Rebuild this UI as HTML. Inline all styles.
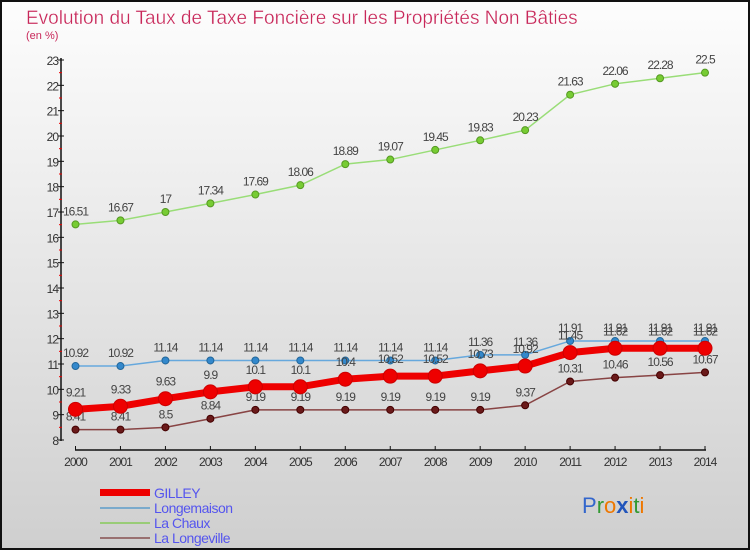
<!DOCTYPE html>
<html><head><meta charset="utf-8"><style>
body{margin:0}
#wrap{width:750px;height:550px;position:relative;box-sizing:border-box;border:2px solid #111;background:linear-gradient(#fdfdfd,#cfcfcf);font-family:"Liberation Sans",sans-serif;overflow:hidden}
</style></head><body>
<div id="wrap">
<svg id="svg" width="746" height="546" viewBox="2 2 746 546" style="position:absolute;left:0;top:0">
<text x="26" y="24" font-size="19" fill="#c8285a" style="font-family:'Liberation Sans',sans-serif" stroke="#fdfdfd" stroke-width="0.3">Evolution du Taux de Taxe Foncière sur les Propriétés Non Bâties</text>
<text x="26" y="39" font-size="11" fill="#c8285a">(en %)</text>
<g id="axes"></g><g id="series"></g>
<g>
<rect x="100" y="489" width="50" height="7" fill="#ee0000"/>
<text x="154" y="498" font-size="14" fill="#5555ee" letter-spacing="-0.5">GILLEY</text>
<rect x="100" y="507" width="50" height="2" fill="#7aaacc"/>
<text x="154" y="513" font-size="14" fill="#5555ee" letter-spacing="-0.5">Longemaison</text>
<rect x="100" y="522" width="50" height="2" fill="#99cc77"/>
<text x="154" y="528" font-size="14" fill="#5555ee" letter-spacing="-0.5">La Chaux</text>
<rect x="100" y="537" width="50" height="2" fill="#997070"/>
<text x="154" y="543" font-size="14" fill="#5555ee" letter-spacing="-0.5">La Longeville</text>
</g>
<g font-size="22" font-family="'Liberation Sans',sans-serif">
<text x="582" y="513"><tspan fill="#3366cc">P</tspan><tspan fill="#339933">r</tspan><tspan fill="#ee7700">o</tspan><tspan fill="#2255bb" font-weight="bold">x</tspan><tspan fill="#ee7700">i</tspan><tspan fill="#339933">t</tspan><tspan fill="#ee7700">i</tspan></text>
</g>
</svg></div>
<script>
const years=[2000,2001,2002,2003,2004,2005,2006,2007,2008,2009,2010,2011,2012,2013,2014];
const gilley=[9.21,9.33,9.63,9.9,10.1,10.1,10.4,10.52,10.52,10.73,10.92,11.45,11.62,11.62,11.62];
const longemaison=[10.92,10.92,11.14,11.14,11.14,11.14,11.14,11.14,11.14,11.36,11.36,11.91,11.91,11.91,11.91];
const laChaux=[16.51,16.67,17,17.34,17.69,18.06,18.89,19.07,19.45,19.83,20.23,21.63,22.06,22.28,22.5];
const laLongeville=[8.41,8.41,8.5,8.84,9.19,9.19,9.19,9.19,9.19,9.19,9.37,10.31,10.46,10.56,10.67];
const yTicks=[8,9,10,11,12,13,14,15,16,17,18,19,20,21,22,23];
const NS='http://www.w3.org/2000/svg';
const xs=i=>75.5+i*(705-75.5)/(years.length-1);
const ys=v=>440-(v-8)*(380/15);
function mk(t,a,p){const e=document.createElementNS(NS,t);for(const k in a)e.setAttribute(k,a[k]);p.appendChild(e);return e;}
const ax=document.getElementById('axes');
const yl=mk('line',{x1:61,y1:58,x2:61,y2:441,stroke:'#111','stroke-width':1.5},ax);


yTicks.forEach(v=>{
 const y=ys(v);
 const t=mk('line',{x1:58,x2:64,y1:y,y2:y,stroke:'#111'},ax);
 
 
 if(v<23){const m=mk('line',{x1:59,x2:62,y1:y-12.67,y2:y-12.67,stroke:'#e00'},ax);
 
 }
 const l=mk('text',{x:58,y:y+5,'font-size':12,fill:'#333','text-anchor':'end','letter-spacing':'-1'},ax);
 
 
 l.textContent=v;
});
const xl=mk('line',{x1:75,y1:450,x2:706,y2:450,stroke:'#111','stroke-width':1.5},ax);


years.forEach((yr,i)=>{
 const x=xs(i);
 const t=mk('line',{x1:x,x2:x,y1:446,y2:450,stroke:'#111'},ax);
 
 
 const l=mk('text',{x:x,y:466,'font-size':12,fill:'#333','text-anchor':'middle','letter-spacing':'-1'},ax);
 
 
 l.textContent=yr;
});
const sg=document.getElementById('series');
function draw(vals,name,col,lw,r,dot,stroke){
 const g=mk('g',{},sg);
 
 
 const p=mk('polyline',{points:vals.map((v,i)=>xs(i)+','+ys(v)).join(' '),fill:'none',stroke:col,'stroke-width':lw},g);
 
 
 vals.forEach((v,i)=>{
  const c=mk('circle',{cx:xs(i),cy:ys(v),r:r,fill:dot,stroke:stroke,'stroke-width':1},g);
  
  
  const t=mk('text',{x:xs(i),y:ys(v)-9-(r>5?4:0),'font-size':12,fill:'#444','text-anchor':'middle','letter-spacing':'-1'},g);
  
  
  t.textContent=v;
 });
}
draw(laChaux,'la-chaux','#99dd77',1.5,3.5,'#77cc33','#559922');
draw(longemaison,'longemaison','#66a8dd',1.5,3.5,'#3388cc','#226699');
draw(laLongeville,'la-longeville','#884444',1.5,3.5,'#6a1a1a','#440000');
draw(gilley,'gilley','#ee0000',7,7,'#ee0000','#cc0000');
</script>
</body></html>
